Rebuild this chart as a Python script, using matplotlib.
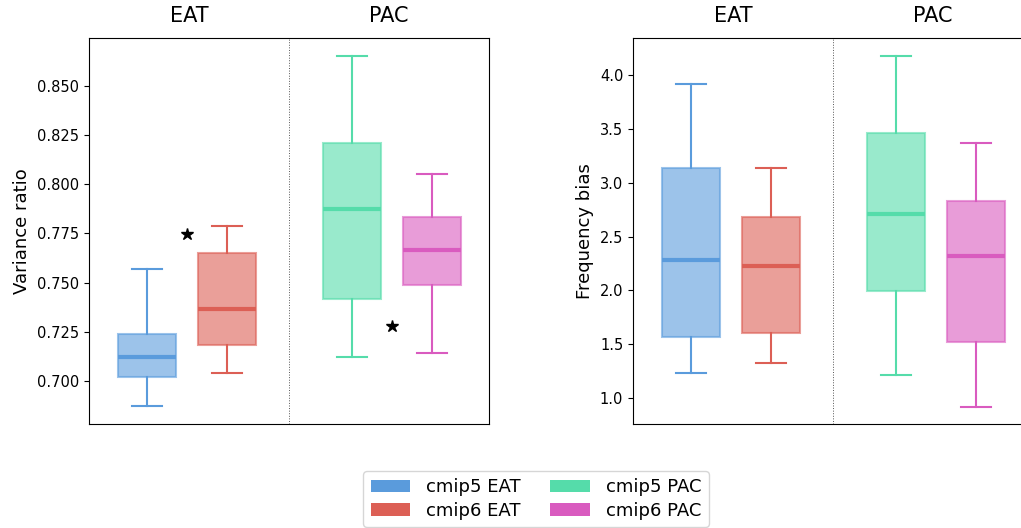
import matplotlib
matplotlib.use('Agg')
import matplotlib.pyplot as plt
from matplotlib.patches import Patch

# Box statistics: (whislo, q1, median, q3, whishi)
labels = ['cmip5 EAT', 'cmip6 EAT', 'cmip5 PAC', 'cmip6 PAC']
colors = ['#5a9bdc', '#dc5f55', '#55dcaa', '#d95bbf']
regions = ['EAT', 'PAC']

var_ratio = [[0.687, 0.702, 0.712, 0.724, 0.757],
             [0.704, 0.7185, 0.7365, 0.765, 0.7787],
             [0.712, 0.7415, 0.7875, 0.821, 0.8653],
             [0.7143, 0.7489, 0.7665, 0.7833, 0.8053]]
var_stars = [0.7747, 0.728]

freq_bias = [[1.232, 1.567, 2.282, 3.136, 3.916],
             [1.325, 1.604, 2.226, 2.681, 3.136],
             [1.214, 1.994, 2.709, 3.461, 4.176],
             [0.916, 1.520, 2.319, 2.830, 3.368]]

positions = [-0.21, 0.19, 0.815, 1.215]
star_x = [-0.01, 1.015]


def draw_panel(ax, data, ylabel, ylim, yticks, fmt, stars=None):
    for i, d in enumerate(data):
        st = dict(whislo=d[0], q1=d[1], med=d[2], q3=d[3], whishi=d[4], fliers=[])
        c = colors[i]
        ax.bxp([st], positions=[positions[i]], widths=0.29, capwidths=0.15,
               patch_artist=True, showfliers=False,
               boxprops=dict(facecolor=c, edgecolor=c, alpha=0.6, linewidth=1.5),
               medianprops=dict(color=c, linewidth=3),
               whiskerprops=dict(color=c, linewidth=1.5),
               capprops=dict(color=c, linewidth=1.5))
    if stars is not None:
        ax.plot(star_x, stars, '*', color='black', markersize=9, zorder=5)
    ax.axvline(0.5, color='#555555', linestyle=':', linewidth=0.7)
    ax.set_xlim(-0.5, 1.5)
    ax.set_ylim(*ylim)
    ax.set_yticks(yticks)
    ax.set_yticklabels([fmt.format(v) for v in yticks], fontsize=10.5)
    ax.set_xticks([])
    ax.set_ylabel(ylabel, fontsize=13)
    for x, r in zip([0, 1], regions):
        ax.text(x, 1.03, r, transform=ax.get_xaxis_transform(),
                ha='center', va='bottom', fontsize=15)


fig = plt.figure(figsize=(10.21, 5.28), dpi=100)
ax1 = fig.add_axes([89 / 1021, 1 - 424 / 528, 400 / 1021, 386 / 528])
ax2 = fig.add_axes([633 / 1021, 1 - 424 / 528, 400 / 1021, 386 / 528])

draw_panel(ax1, var_ratio, 'Variance ratio', (0.6781, 0.8744),
           [0.700, 0.725, 0.750, 0.775, 0.800, 0.825, 0.850], '{:.3f}', var_stars)
draw_panel(ax2, freq_bias, 'Frequency bias', (0.7585, 4.344),
           [1.0, 1.5, 2.0, 2.5, 3.0, 3.5, 4.0], '{:.1f}')

handles = [Patch(facecolor=c, label=l) for c, l in zip(colors, labels)]
fig.legend(handles=handles, ncol=2, loc='upper center', fontsize=13,
           bbox_to_anchor=(536 / 1021, 1 - 462 / 528), columnspacing=1.6,
           handlelength=2.2, handletextpad=0.9, labelspacing=0.3)

fig.savefig('out.png', dpi=100)
